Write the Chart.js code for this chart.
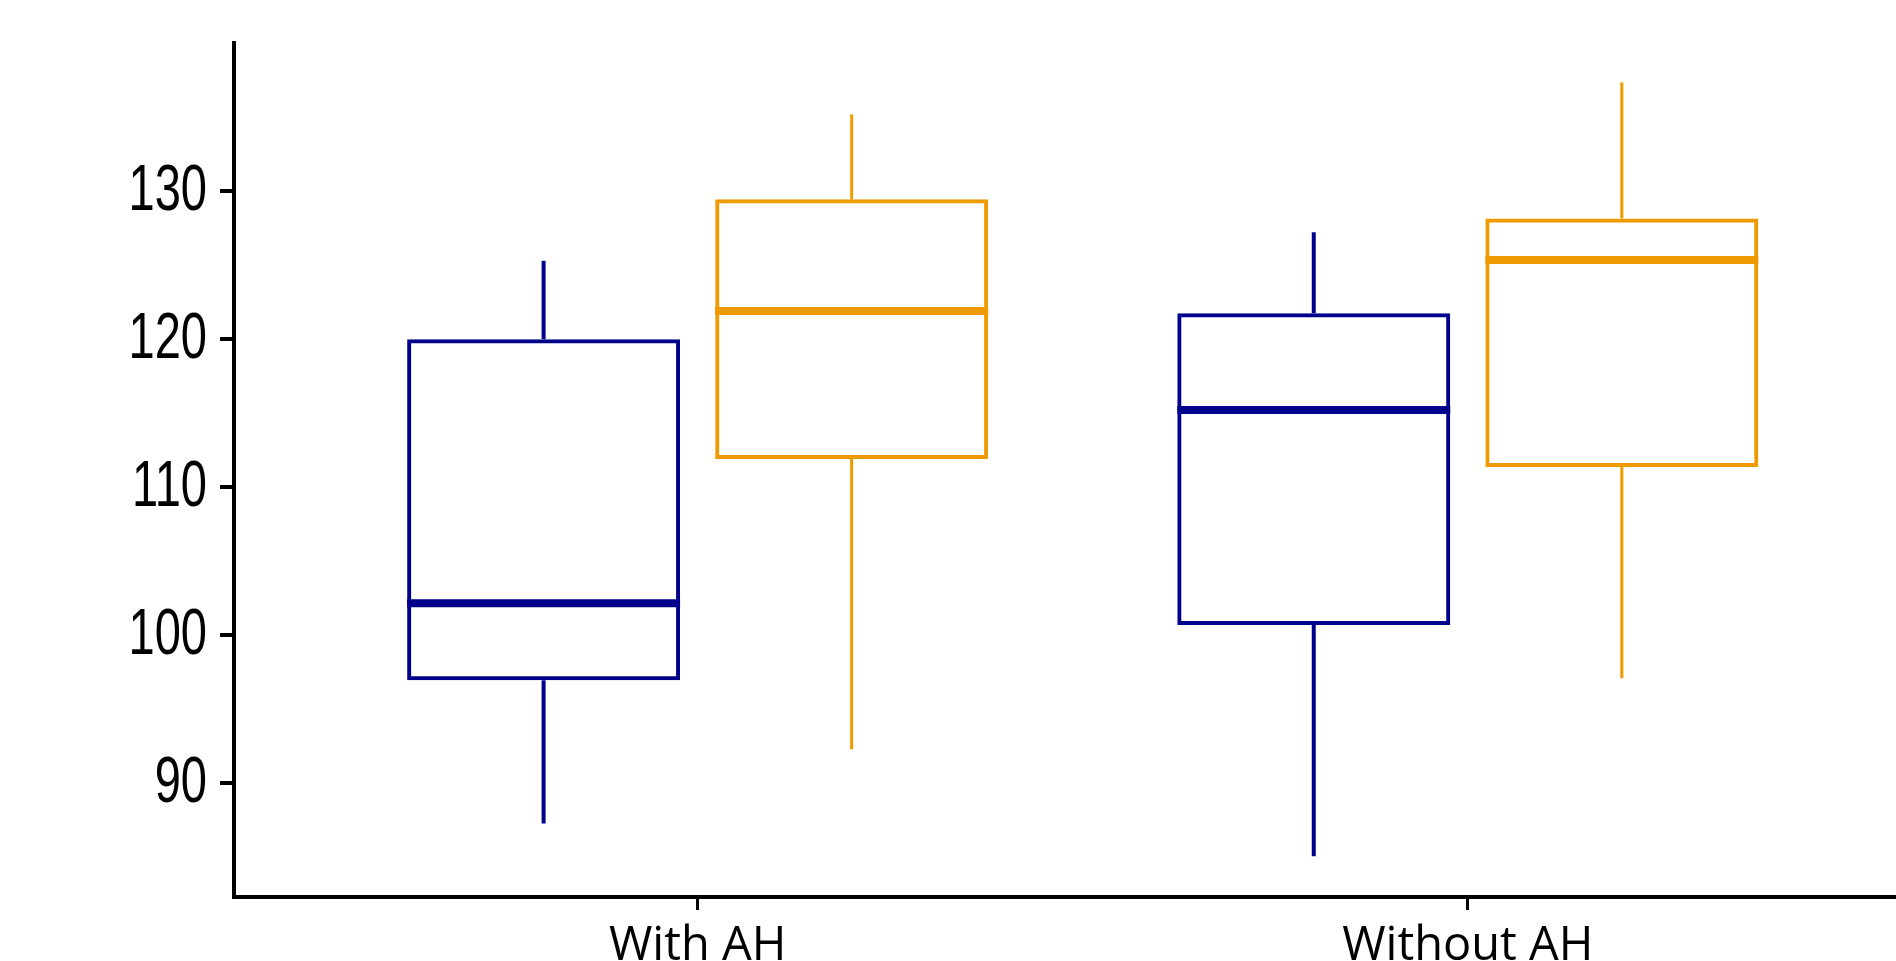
<!DOCTYPE html>
<html>
<head>
<meta charset="utf-8">
<script src="https://cdn.jsdelivr.net/npm/chart.js@4/dist/chart.umd.min.js"></script>
<style>
  html, body { margin: 0; padding: 0; background: #fff; overflow: hidden; }
  #wrap { position: relative; width: 1896px; height: 961px; }
</style>
</head>
<body>
<div id="wrap"><canvas id="myChart"></canvas></div>
<script>
// categories on the x axis (placed at 1 and 2 on a linear scale)
var groups = ['With AH', 'Without AH'];
var groupPos = [1, 2];

// navy series: whisker ends, quartiles, median
var navyLow = [87.25, 85.04];
var navyQ1 = [96.94, 100.68];
var navyMed = [102.14, 115.21];
var navyQ3 = [120.0, 121.75];
var navyHigh = [125.3, 127.23];

// orange series
var orangeLow = [92.27, 97.07];
var orangeQ1 = [111.9, 111.36];
var orangeMed = [121.9, 125.35];
var orangeQ3 = [129.46, 128.17];
var orangeHigh = [135.2, 137.37];

var yTicks = [90, 100, 110, 120, 130];

var NAVY = '#00008B';
var ORANGE = '#EE9A00';

function pairs(lo, hi) {
  return groupPos.map(function (x, i) { return { x: x, y: [lo[i], hi[i]] }; });
}

function box(lo, hi, color, stack) {
  return {
    data: pairs(lo, hi),
    stack: stack,
    backgroundColor: 'rgba(0,0,0,0)',
    borderColor: color,
    borderWidth: 4,
    borderSkipped: false,
    barPercentage: 0.886
  };
}

function whisker(lo, hi, color, stack, w) {
  return {
    data: pairs(lo, hi),
    stack: stack,
    backgroundColor: color,
    borderWidth: 0,
    barPercentage: 0.886,
    maxBarThickness: w
  };
}

// one zero-height bar per median; base = median so minBarLength grows it around the value
function medians(med, color, stack) {
  return groupPos.map(function (x, i) {
    return {
      data: [{ x: x, y: [med[i], med[i]] }],
      stack: stack,
      base: med[i],
      minBarLength: 8,
      backgroundColor: color,
      borderWidth: 0,
      barPercentage: 0.886
    };
  });
}

var datasets = [
  box(navyQ1, navyQ3, NAVY, 'navy'),
  whisker(navyLow, navyQ1, NAVY, 'navy', 4),
  whisker(navyQ3, navyHigh, NAVY, 'navy', 4),
  box(orangeQ1, orangeQ3, ORANGE, 'orange'),
  whisker(orangeLow, orangeQ1, ORANGE, 'orange', 3),
  whisker(orangeQ3, orangeHigh, ORANGE, 'orange', 3)
].concat(medians(navyMed, NAVY, 'navy'), medians(orangeMed, ORANGE, 'orange'));

// y labels in the picture are tall and narrow, so draw them stretched at the scale's tick pixels
var tallYLabels = {
  id: 'tallYLabels',
  afterDraw: function (chart) {
    var s = chart.scales.y;
    var c = chart.ctx;
    var x = s.right - 14 - 13;
    c.save();
    c.fillStyle = '#000';
    c.font = '48px "Liberation Sans", Arial, sans-serif';
    c.textAlign = 'right';
    c.textBaseline = 'middle';
    yTicks.forEach(function (v) {
      c.save();
      c.translate(x, s.getPixelForValue(v) + 1);
      c.scale(0.98, 1.36);
      c.fillText(String(v), 0, 0);
      c.restore();
    });
    c.restore();
  }
};

var ctx = document.getElementById('myChart').getContext('2d');
var myChart = new Chart(ctx, {
  type: 'bar',
  data: { datasets: datasets },
  plugins: [tallYLabels],
  options: {
    responsive: true,
    maintainAspectRatio: false,
    animation: false,
    events: [],
    layout: { padding: { top: 43, left: 0, right: 0, bottom: 0 } },
    plugins: { legend: { display: false }, tooltip: { enabled: false } },
    datasets: { bar: { categoryPercentage: 0.8, borderRadius: 0 } },
    scales: {
      x: {
        type: 'linear',
        stacked: true,
        offset: false,
        min: 0.398,
        max: 2.556,
        afterBuildTicks: function (scale) {
          scale.ticks = groupPos.map(function (v) { return { value: v }; });
        },
        afterFit: function (scale) { scale.height = 64; },
        grid: { offset: false, drawOnChartArea: false, drawTicks: true, tickLength: 13, lineWidth: 3, color: '#000' },
        border: { display: true, color: '#000', width: 4 },
        ticks: {
          autoSkip: false,
          maxRotation: 0,
          padding: 8,
          color: '#000',
          font: { family: '"Open Sans", "Noto Sans", sans-serif', size: 47, lineHeight: 1.2 },
          callback: function (value) {
            var i = groupPos.indexOf(value);
            return i >= 0 ? groups[i] : '';
          }
        }
      },
      y: {
        type: 'linear',
        stacked: false,
        min: 82.28,
        max: 140.03,
        afterBuildTicks: function (scale) {
          scale.ticks = yTicks.map(function (v) { return { value: v }; });
        },
        afterFit: function (scale) { scale.width = 234; },
        grid: { drawOnChartArea: false, drawTicks: true, tickLength: 14, lineWidth: 4, color: '#000' },
        border: { display: true, color: '#000', width: 4 },
        ticks: { display: false }
      }
    }
  }
});
</script>
</body>
</html>
